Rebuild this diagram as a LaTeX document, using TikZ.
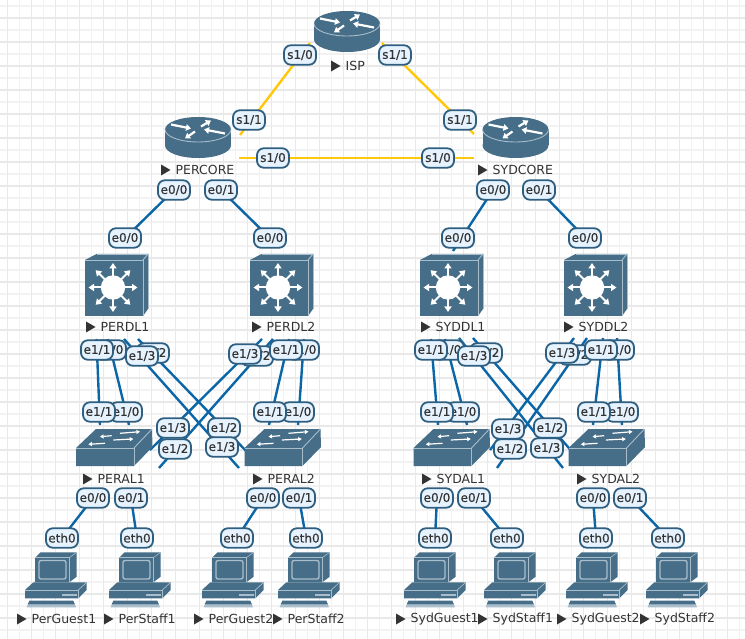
\documentclass[tikz,border=0pt]{standalone}
\usepackage{fontspec}
\setmainfont{DejaVu Sans}
\newfontfamily\iffont[FakeBold=0.5]{DejaVu Sans}
\usetikzlibrary{arrows.meta}
\definecolor{dev}{HTML}{466E88}
\definecolor{devlight}{HTML}{A9BDCA}
\definecolor{gridminor}{HTML}{F2F2F2}
\definecolor{gridmajor}{HTML}{E9E9E9}
\definecolor{serialc}{HTML}{FFC80A}
\definecolor{etherc}{HTML}{0B66A8}
\definecolor{labelfill}{HTML}{E6F3FF}
\definecolor{labeledge}{HTML}{2F5F80}
\definecolor{textc}{HTML}{333333}
\tikzset{
  serialln/.style={draw=serialc,line width=2.4pt},
  etherln/.style={draw=etherc,line width=2.4pt},
  iflabel/.style={draw=labeledge,fill=labelfill,line width=1.8pt,rounded corners=7pt,
    minimum width=32pt,minimum height=19.5pt,inner sep=0pt,text=textc,font=\iffont\fontsize{12}{13}\selectfont},
  devname/.style={anchor=west,inner sep=0pt,text=textc,font=\fontsize{12.5}{14}\selectfont},
  whitearrow/.style={draw=white,line width=2.2pt,-{Triangle[width=6.5pt,length=5pt]}},
  thinarrow/.style={draw=white,line width=1.2pt,-{Triangle[width=4pt,length=3.6pt]}},
  hl/.style={draw=devlight,line width=0.9pt}
}
\newcommand{\conn}[5]{\coordinate (#2) at (#3); \coordinate (#4) at (#5); \draw[#1] (#2) -- (#4);}
\newcommand{\portlbl}[4]{\node[iflabel] (#1) at (#2,#3) {#4};}
\newcommand{\devlabel}[4]{\fill[textc] (#2,#3-5.5) -- (#2+9.5,#3) -- (#2,#3+5.5) -- cycle;
  \node[devname] (#1) at (#2+14.5,#3) {#4};}
\newcommand{\routerdev}[3]{\begin{scope}[shift={(#2,#3)}]
  \coordinate (#1) at (0,8);
  \fill[dev] (0,16) ellipse [x radius=33,y radius=12.5];
  \fill[dev] (-33,0) rectangle (33,16);
  \fill[dev] (0,0) ellipse [x radius=33,y radius=12.5];
  \draw[hl] (-33,0) .. controls (-33,7) and (-18,12.5) .. (0,12.5) .. controls (18,12.5) and (33,7) .. (33,0);
  \draw[whitearrow] (-27,-5) -- (-7,-1);
  \draw[whitearrow] (-3,2) -- (-13,9);
  \draw[whitearrow] (3,-3) -- (13,-9);
  \draw[whitearrow] (27,4) -- (6,0);
\end{scope}}
\newcommand{\mlsdev}[3]{\begin{scope}[shift={(#2,#3)}]
  \coordinate (#1) at (29,28);
  \fill[dev] (0,0) -- (11.5,-6) -- (63,-6) -- (63,49) -- (58,56) -- (0,56) -- cycle;
  \draw[hl] (0,0) -- (58,0) -- (58,56);
  \draw[hl] (58,0) -- (63,-6);
  \draw[hl,line width=0.5pt] (11.5,-6) -- (63,-6) -- (63,49);
  \fill[white] (28,27.5) circle (12.2);
  \foreach \ang in {0,45,...,315}{
    \begin{scope}[shift={(28,27.5)}]
      \draw[draw=white,line width=2pt,-{Triangle[width=7pt,length=5.5pt]}] (\ang:10) -- (\ang:24.5);
    \end{scope}}
\end{scope}}
\newcommand{\swdev}[3]{\begin{scope}[shift={(#2,#3)}]
  \coordinate (#1) at (29,5);
  \fill[dev] (0,0) -- (20,-19) -- (76,-19) -- (76.5,-1) -- (58,18) -- (0,18) -- cycle;
  \draw[hl] (0,0) -- (58,0) -- (58,18);
  \draw[hl] (58,0) -- (76,-19);
  \draw[thinarrow] (44,-14.7) -- (64,-16.3);
  \draw[thinarrow] (35.7,-12.3) -- (24,-11.3);
  \draw[thinarrow] (37.3,-8) -- (57.3,-9);
  \draw[thinarrow] (29,-4.7) -- (12.3,-3.7);
\end{scope}}
\newcommand{\pcdev}[2]{\begin{scope}[shift={(#2,545)}]
  \coordinate (#1) at (27,30);
  \fill[dev] (10,12.7) -- (15.7,7.3) -- (51.7,7.3) -- (51.7,31.7) -- (44.3,37.3) -- (10,37.3) -- cycle;
  \draw[hl,line width=0.6pt] (44.3,12.7) -- (51.7,7.3);
  \draw[hl,line width=0.6pt] (10,12.7) -- (44.3,12.7) -- (44.3,37.3);
  \draw[devlight,line width=1.4pt,rounded corners=2pt] (14,15.5) rectangle (41,34);
  \fill[dev] (0,45) -- (8.3,37.3) -- (61.7,37.3) -- (61.7,45) -- (53.3,53.3) -- (0,53.3) -- cycle;
  \draw[hl,line width=0.7pt] (0,45) -- (53.3,45) -- (53.3,53.3);
  \draw[hl,line width=0.7pt] (53.3,45) -- (61.7,37.3);
  \fill[devlight] (36.7,49) rectangle (51.7,50.7);
  \fill[dev] (4.3,55.7) -- (48.3,55.7) -- (50,59.5) -- (2.7,59.5) -- cycle;
  \fill[devlight] (2.7,59.5) -- (50,59.5) -- (51,62.3) -- (1.7,62.3) -- cycle;
\end{scope}}
\begin{document}
\begin{tikzpicture}[x=1pt,y=-1pt]
\useasboundingbox (0,0) rectangle (745,639);
\fill[white] (0,0) rectangle (745,639);
% grid
\foreach \i in {0,...,61}{\draw[gridminor,line width=1.2pt] ({7.5+12*\i},0) -- ({7.5+12*\i},639);}
\foreach \i in {0,...,52}{\draw[gridminor,line width=1.2pt] (0,{6+12*\i}) -- (745,{6+12*\i});}
\foreach \i in {0,...,30}{\draw[gridmajor,line width=1.2pt] ({7.5+24*\i},0) -- ({7.5+24*\i},639);}
\foreach \i in {0,...,25}{\draw[gridmajor,line width=1.2pt] (0,{18+24*\i}) -- (745,{18+24*\i});}
% serial links
\conn{serialln}{c1a}{310,43}{c1b}{240,135}
\conn{serialln}{c2a}{382,43}{c2b}{474,134}
\conn{serialln}{c3a}{239,158}{c3b}{474,158}
% core to distribution
\conn{etherln}{c4a}{174,190}{c4b}{118,245}
\conn{etherln}{c5a}{221,190}{c5b}{277,245}
\conn{etherln}{c6a}{493,190}{c6b}{453,251}
\conn{etherln}{c7a}{539,190}{c7b}{592,245}
% PER distribution to access
\conn{etherln}{d1a}{96.5,339}{d1b}{100,425}
\conn{etherln}{d2a}{108,339}{d2b}{129,425}
\conn{etherln}{d3a}{124,339}{d3b}{239,468}
\conn{etherln}{d4a}{138,339}{d4b}{250,455}
\conn{etherln}{d5a}{262,339}{d5b}{150,450}
\conn{etherln}{d6a}{273,339}{d6b}{159,468}
\conn{etherln}{d7a}{289,339}{d7b}{269,425}
\conn{etherln}{d8a}{304,339}{d8b}{298,425}
% SYD distribution to access
\conn{etherln}{s1a}{431,339}{s1b}{438,425}
\conn{etherln}{s2a}{445,339}{s2b}{467,425}
\conn{etherln}{s3a}{459,338}{s3b}{563,468}
\conn{etherln}{s4a}{473,338}{s4b}{575,455}
\conn{etherln}{s5a}{574,338}{s5b}{490,450}
\conn{etherln}{s6a}{587,338}{s6b}{497,468}
\conn{etherln}{s7a}{603,338}{s7b}{593,425}
\conn{etherln}{s8a}{617,338}{s8b}{622,425}
% access to hosts
\conn{etherln}{h1a}{93,498}{h1b}{62,538}
\conn{etherln}{h2a}{131,498}{h2b}{137,538}
\conn{etherln}{h3a}{263,498}{h3b}{237,538}
\conn{etherln}{h4a}{299,498}{h4b}{306,538}
\conn{etherln}{h5a}{437,498}{h5b}{435,538}
\conn{etherln}{h6a}{474,498}{h6b}{507,538}
\conn{etherln}{h7a}{593,498}{h7b}{596,538}
\conn{etherln}{h8a}{630,498}{h8b}{668,538}
% devices
\routerdev{ISP}{347}{23.5}
\routerdev{PERCORE}{198}{129.5}
\routerdev{SYDCORE}{515.5}{129.5}
\mlsdev{PERDL1}{85}{260}
\mlsdev{PERDL2}{250}{260}
\mlsdev{SYDDL1}{420}{260}
\mlsdev{SYDDL2}{564}{260}
\swdev{PERAL1}{76}{448}
\swdev{PERAL2}{244.5}{448}
\swdev{SYDAL1}{413.5}{448}
\swdev{SYDAL2}{568.5}{448}
\pcdev{PG1}{25}
\pcdev{PS1}{109}
\pcdev{PG2}{202}
\pcdev{PS2}{278}
\pcdev{SG1}{404}
\pcdev{SS1}{484}
\pcdev{SG2}{566}
\pcdev{SS2}{646}
% device names
\devlabel{nISP}{331}{66}{ISP}
\devlabel{nPERCORE}{161}{170}{PERCORE}
\devlabel{nSYDCORE}{478}{170}{SYDCORE}
\devlabel{nPERDL1}{86}{327}{PERDL1}
\devlabel{nPERDL2}{252}{327}{PERDL2}
\devlabel{nSYDDL1}{421}{327}{SYDDL1}
\devlabel{nSYDDL2}{564}{327}{SYDDL2}
\devlabel{nPERAL1}{83}{479}{PERAL1}
\devlabel{nPERAL2}{253}{479}{PERAL2}
\devlabel{nSYDAL1}{422}{479}{SYDAL1}
\devlabel{nSYDAL2}{577}{479}{SYDAL2}
\devlabel{nPG1}{17}{619}{PerGuest1}
\devlabel{nPS1}{104}{619}{PerStaff1}
\devlabel{nPG2}{194}{619}{PerGuest2}
\devlabel{nPS2}{273}{619}{PerStaff2}
\devlabel{nSG1}{396}{619}{SydGuest1}
\devlabel{nSS1}{478}{619}{SydStaff1}
\devlabel{nSG2}{557}{619}{SydGuest2}
\devlabel{nSS2}{640}{619}{SydStaff2}
% interface labels
\portlbl{l1}{300}{55}{s1/0}
\portlbl{l2}{395}{55}{s1/1}
\portlbl{l3}{249}{120}{s1/1}
\portlbl{l4}{460}{120}{s1/1}
\portlbl{l5}{273}{158}{s1/0}
\portlbl{l6}{438}{158}{s1/0}
\portlbl{l7}{174}{190}{e0/0}
\portlbl{l8}{221}{190}{e0/1}
\portlbl{l9}{493}{190}{e0/0}
\portlbl{l10}{539}{190}{e0/1}
\portlbl{l11}{125}{238}{e0/0}
\portlbl{l12}{270}{238}{e0/0}
\portlbl{l13}{458}{238}{e0/0}
\portlbl{l14}{585}{238}{e0/0}
% PERDL1
\portlbl{a1}{110}{350}{e1/0}
\portlbl{a2}{97}{350}{e1/1}
\portlbl{a3}{153}{353}{e1/2}
\portlbl{a4}{142}{356}{e1/3}
% PERDL2
\portlbl{a5}{303}{350}{e1/0}
\portlbl{a6}{257}{356}{e1/2}
\portlbl{a7}{245}{354}{e1/3}
\portlbl{a8}{286}{350}{e1/1}
% SYDDL1
\portlbl{a9}{448}{350}{e1/0}
\portlbl{a10}{431}{350}{e1/1}
\portlbl{a11}{486}{353}{e1/2}
\portlbl{a12}{474}{356}{e1/3}
% SYDDL2
\portlbl{a13}{618}{350}{e1/0}
\portlbl{a14}{575}{355}{e1/2}
\portlbl{a15}{562}{353}{e1/3}
\portlbl{a16}{601}{350}{e1/1}
% PERAL1
\portlbl{b1}{126}{412}{e1/0}
\portlbl{b2}{99}{412}{e1/1}
\portlbl{b3}{173}{428}{e1/3}
\portlbl{b4}{175}{449}{e1/2}
% PERAL2
\portlbl{b5}{298}{412}{e1/0}
\portlbl{b6}{270}{412}{e1/1}
\portlbl{b7}{224}{428}{e1/2}
\portlbl{b8}{222}{447}{e1/3}
% SYDAL1
\portlbl{b9}{463}{412}{e1/0}
\portlbl{b10}{437}{412}{e1/1}
\portlbl{b11}{508}{429}{e1/3}
\portlbl{b12}{510}{449}{e1/2}
% SYDAL2
\portlbl{b13}{622}{412}{e1/0}
\portlbl{b14}{594}{412}{e1/1}
\portlbl{b15}{550}{428}{e1/2}
\portlbl{b16}{547}{448}{e1/3}
% access ports
\portlbl{e1}{93}{498}{e0/0}
\portlbl{e2}{131}{498}{e0/1}
\portlbl{e3}{263}{498}{e0/0}
\portlbl{e4}{299}{498}{e0/1}
\portlbl{e5}{437}{498}{e0/0}
\portlbl{e6}{474}{498}{e0/1}
\portlbl{e7}{593}{498}{e0/0}
\portlbl{e8}{630}{498}{e0/1}
\portlbl{f1}{62}{538}{eth0}
\portlbl{f2}{137}{538}{eth0}
\portlbl{f3}{237}{538}{eth0}
\portlbl{f4}{306}{538}{eth0}
\portlbl{f5}{435}{538}{eth0}
\portlbl{f6}{507}{538}{eth0}
\portlbl{f7}{596}{538}{eth0}
\portlbl{f8}{668}{538}{eth0}
\end{tikzpicture}
\end{document}
